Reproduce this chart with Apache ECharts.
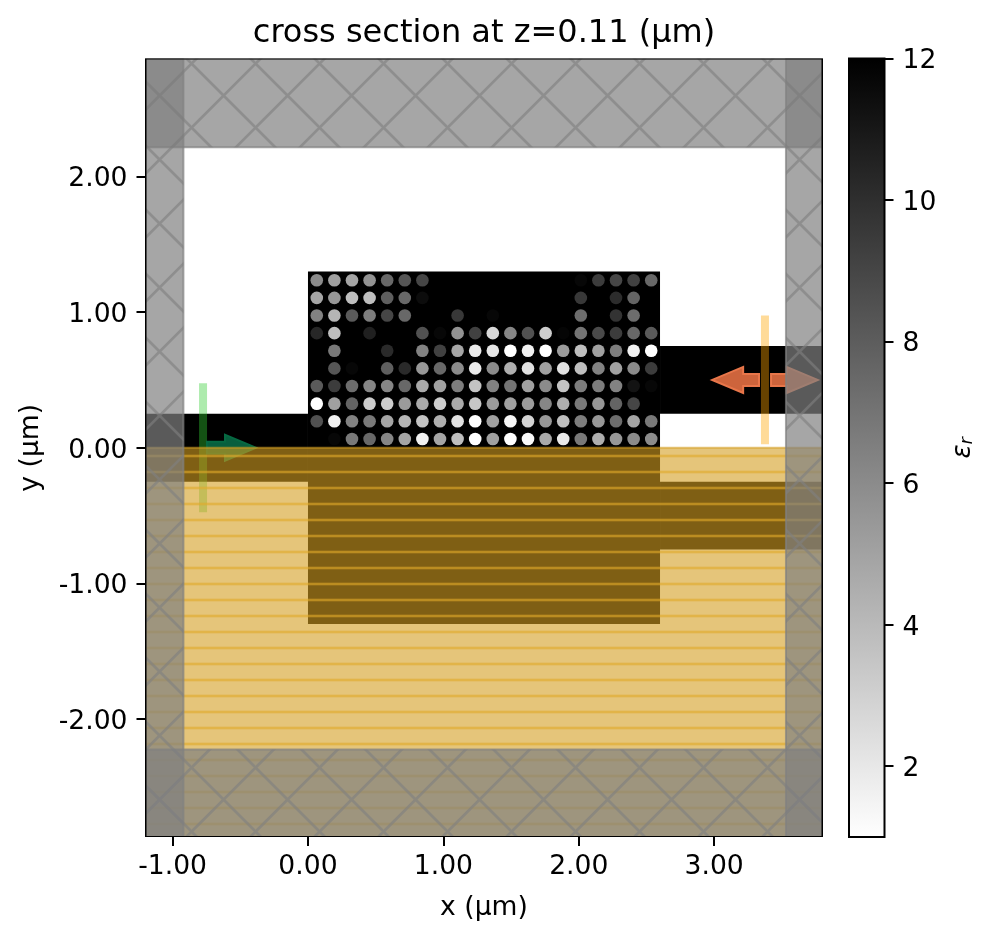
<!DOCTYPE html>
<html><head><meta charset="utf-8">
<style>html,body{margin:0;padding:0;background:#fff}#c{width:993px;height:940px}</style>
<script src="https://cdn.jsdelivr.net/npm/echarts@6/dist/echarts.min.js"></script>
</head><body><div id="c"></div>
<script>
const xTicks = [-1, 0, 1, 2, 3];
const yTicks = [-2, -1, 0, 1, 2];
const cbTicks = [2, 4, 6, 8, 10, 12];
const xRange = [-1.2, 3.8];
const yRange = [-2.87, 2.87];
const epsRange = [1, 12];
// silicon structures [x0, y0, x1, y1] in um
const siliconRects = [
  [0, -1.3, 2.6, 1.3],
  [-1.2, -0.25, 0, 0.25],
  [2.6, 0.25, 3.8, 0.75],
  [2.6, -0.75, 3.8, -0.25]
];
const holeX = [0.065,0.195,0.325,0.455,0.585,0.715,0.845,0.975,1.105,1.235,1.365,1.495,1.625,1.755,1.885,2.015,2.145,2.275,2.405,2.535];
const holeY = [1.235,1.105,0.975,0.845,0.715,0.585,0.455,0.325,0.195,0.065];
// permittivity of every hole, top row first
const holeEps = [
  [6,5.1,4.9,5.7,7.5,8.3,9,12,12,12,12,12,12,12,12,11.7,9.4,9,9.2,7.5],
  [4.9,5.5,3.8,3.8,7.9,7.5,11.5,12,12,12,12,12,12,12,12,9.6,12,10.1,7.7,12],
  [6.4,4.2,8.1,6.6,9,7.5,12,12,9.6,12,11.7,12,12,12,12,7.3,12,9.8,7.3,12],
  [10.3,3.8,12,10.6,12,12,8.5,11.7,5.7,9.2,2.7,6.2,8.5,3.2,11.8,7,8.8,9.4,7.5,8.1],
  [12,6.8,12,12,10.2,12,6.4,9.2,4.9,1.9,2.1,1,1.6,1,5.3,3.8,5.1,6.6,1.6,1],
  [12,8.3,11.7,12,7.9,10.2,5.5,7.5,6,1.9,6,4.5,2.3,5.1,2.3,3.8,6.4,5.1,6,9.4],
  [8.1,9.4,7.3,6.2,6.2,7.5,4.7,5.1,6.6,3.6,6.4,7,5.1,6,3.6,6.6,6.6,6.4,11.2,11.7],
  [1,5.1,7.7,3.2,3.2,5.3,4.7,3.2,4.7,3.4,5.3,5.1,5.3,6.2,4.5,6.8,5.5,7.7,9,12],
  [8.5,1.6,6.4,6.8,4.9,4.2,3.6,4.5,2.3,1,5.1,1.4,2.9,5.5,3.8,6.6,5.5,7.3,4.9,6.8],
  [12,11.7,6.8,7.5,6.2,4.9,1.6,4.9,3.8,1,5.1,1,1.2,4.7,1.9,6.8,4.5,5.5,6,6]
];
const symmetryRect = [[-1.2, -2.87, 3.8, 0]];
const pmlRects = [
  [-1.2, -2.87, -0.92, 2.87],
  [3.53, -2.87, 3.8, 2.87],
  [-1.2, 2.215, 3.8, 2.87],
  [-1.2, -2.87, 3.8, -2.225]
];
// planes [x, y0, y1]
const sourcePlane = [[-0.775, -0.475, 0.475]];
const monitorPlane = [[3.375, 0.025, 0.975]];
// arrows [x start, y, x tip, y]
const sourceArrow = [[-0.746, 0, -0.384, 0]];
const monitorArrows = [[3.331, 0.5, 2.985, 0.5], [3.42, 0.5, 3.765, 0.5]];

const holes = [];
holeY.forEach((y, r) => holeX.forEach((x, c) => holes.push([x, y, holeEps[r][c]])));

function tile(size, draw) {
  const cv = document.createElement('canvas');
  cv.width = cv.height = size;
  draw(cv.getContext('2d'));
  return { image: cv, repeat: 'repeat' };
}
const crossTile = tile(64, g => {
  g.strokeStyle = 'rgba(128,128,128,0.62)'; g.lineWidth = 2.7; g.translate(-0.4, -0.4);
  g.beginPath();
  g.moveTo(-8, -8); g.lineTo(72, 72);
  g.moveTo(-8, 72); g.lineTo(72, -8);
  g.moveTo(-8, 56); g.lineTo(8, 72);
  g.moveTo(56, -8); g.lineTo(72, 8);
  g.stroke();
});
const lineTile = tile(16, g => {
  g.fillStyle = 'rgba(225,170,42,0.62)';
  g.fillRect(0, 6.7, 16, 2.6);
});

function rectSeries(data, styler) {
  return {
    type: 'custom', silent: true, animation: false, clip: true,
    xAxisIndex: 0, yAxisIndex: 0, data,
    renderItem(p, api) {
      const a = api.coord([api.value(0), api.value(1)]);
      const b = api.coord([api.value(2), api.value(3)]);
      const shape = { x: Math.min(a[0], b[0]), y: Math.min(a[1], b[1]), width: Math.abs(a[0] - b[0]), height: Math.abs(a[1] - b[1]) };
      return { type: 'group', children: styler().map(s => ({ type: 'rect', shape, style: s })) };
    }
  };
}
function planeSeries(data, color) {
  return {
    type: 'custom', silent: true, animation: false, xAxisIndex: 0, yAxisIndex: 0, data,
    renderItem(p, api) {
      const a = api.coord([api.value(0), api.value(1)]);
      const b = api.coord([api.value(0), api.value(2)]);
      return { type: 'line', shape: { x1: a[0], y1: a[1], x2: b[0], y2: b[1] }, style: { stroke: color, lineWidth: 8, fill: null } };
    }
  };
}
function arrowSeries(data, fill, edge) {
  return {
    type: 'custom', silent: true, animation: false, clip: true, xAxisIndex: 0, yAxisIndex: 0, data,
    renderItem(p, api) {
      const a = api.coord([api.value(0), api.value(1)]);
      const t = api.coord([api.value(2), api.value(3)]);
      const d = t[0] > a[0] ? 1 : -1;
      const bx = t[0] - d * 31, h = 13, w = 6;
      return { type: 'polygon', shape: { points: [
        [a[0], a[1] - w], [bx, a[1] - w], [bx, a[1] - h], [t[0], a[1]],
        [bx, a[1] + h], [bx, a[1] + w], [a[0], a[1] + w]
      ] }, style: { fill, stroke: edge, lineWidth: 2 } };
    }
  };
}
const font = 'DejaVu Sans';
const axisLabel = { show: true, fontFamily: font, fontSize: 26.6, color: '#000' };
const option = {
  animation: false,
  backgroundColor: '#fff',
  title: { text: 'cross section at z=0.11 (µm)', left: 479, top: 13, textAlign: 'center',
    textStyle: { fontFamily: font, fontWeight: 'normal', fontSize: 32, color: '#000' } },
  grid: [
    { left: 145.5, top: 58.5, width: 677, height: 778.5 },
    { left: 849, top: 58.5, width: 35.5, height: 778.5 }
  ],
  xAxis: [
    { type: 'value', gridIndex: 0, min: xRange[0], max: xRange[1],
      name: 'x (µm)', nameLocation: 'middle', nameGap: 58,
      nameTextStyle: { fontFamily: font, fontSize: 26.6, color: '#000' },
      splitLine: { show: false }, axisLine: { show: false, onZero: false },
      axisTick: { show: true, length: 9, inside: false, customValues: xTicks, lineStyle: { color: '#000', width: 2 } },
      axisLabel: { ...axisLabel, margin: 17, customValues: xTicks, formatter: v => v.toFixed(2) } },
    { type: 'value', gridIndex: 1, min: 0, max: 1, show: false }
  ],
  yAxis: [
    { type: 'value', gridIndex: 0, min: yRange[0], max: yRange[1],
      name: 'y (µm)', nameLocation: 'middle', nameGap: 101, nameRotate: 90,
      nameTextStyle: { fontFamily: font, fontSize: 26.6, color: '#000' },
      splitLine: { show: false }, axisLine: { show: false, onZero: false },
      axisTick: { show: true, length: 9, customValues: yTicks, lineStyle: { color: '#000', width: 2 } },
      axisLabel: { ...axisLabel, margin: 18, verticalAlign: 'top', lineHeight: 6, customValues: yTicks, formatter: v => v.toFixed(2) } },
    { type: 'value', gridIndex: 1, position: 'right', min: epsRange[0], max: epsRange[1],
      name: '{e|ε}{r|r}', nameLocation: 'middle', nameGap: 66, nameRotate: 90,
      nameTextStyle: { rich: {
        e: { fontFamily: font, fontStyle: 'italic', fontSize: 26, color: '#000' },
        r: { fontFamily: font, fontStyle: 'italic', fontSize: 18, color: '#000', verticalAlign: 'bottom', padding: [8, 0, 0, 0] } } },
      splitLine: { show: false }, axisLine: { show: false, onZero: false },
      axisTick: { show: true, length: 9, customValues: cbTicks, lineStyle: { color: '#000', width: 2 } },
      axisLabel: { ...axisLabel, margin: 18, verticalAlign: 'top', lineHeight: 6, customValues: cbTicks } }
  ],
  visualMap: { show: false, type: 'continuous', min: epsRange[0], max: epsRange[1], seriesIndex: 1, dimension: 2,
    inRange: { color: ['#ffffff', '#000000'] } },
  series: [
    rectSeries(siliconRects, () => [{ fill: '#000' }]),
    { type: 'scatter', silent: true, animation: false, xAxisIndex: 0, yAxisIndex: 0, data: holes, symbolSize: 12.6,
      itemStyle: { opacity: 1 } },
    planeSeries(sourcePlane, 'rgba(50,205,50,0.4)'),
    planeSeries(monitorPlane, 'rgba(255,165,0,0.4)'),
    arrowSeries(sourceArrow, 'rgb(8,95,62)', 'rgb(6,105,66)'),
    arrowSeries(monitorArrows, 'rgb(205,100,60)', 'rgb(232,118,74)'),
    rectSeries(symmetryRect, () => [
      { fill: 'rgba(212,158,33,0.6)', stroke: 'rgba(212,158,33,0.6)', lineWidth: 2 },
      { fill: lineTile }
    ]),
    rectSeries(pmlRects, () => [
      { fill: 'rgba(128,128,128,0.7)', stroke: 'rgba(128,128,128,0.7)', lineWidth: 2 },
      { fill: crossTile }
    ]),
    rectSeries([[xRange[0], yRange[0], xRange[1], yRange[1]]], () => [{ fill: 'none', stroke: '#000', lineWidth: 2 }]),
    {
      type: 'custom', silent: true, animation: false, clip: false, xAxisIndex: 1, yAxisIndex: 1,
      data: [[0, epsRange[0], 1, epsRange[1]]],
      renderItem(p, api) {
        const a = api.coord([api.value(0), api.value(1)]);
        const b = api.coord([api.value(2), api.value(3)]);
        return { type: 'rect', shape: { x: a[0], y: b[1], width: b[0] - a[0], height: a[1] - b[1] },
          style: { stroke: '#000', lineWidth: 2,
            fill: new echarts.graphic.LinearGradient(0, 0, 0, 1, [{ offset: 0, color: '#000' }, { offset: 1, color: '#fff' }]) } };
      }
    }
  ]
};
echarts.init(document.getElementById('c')).setOption(option);
</script></body></html>
